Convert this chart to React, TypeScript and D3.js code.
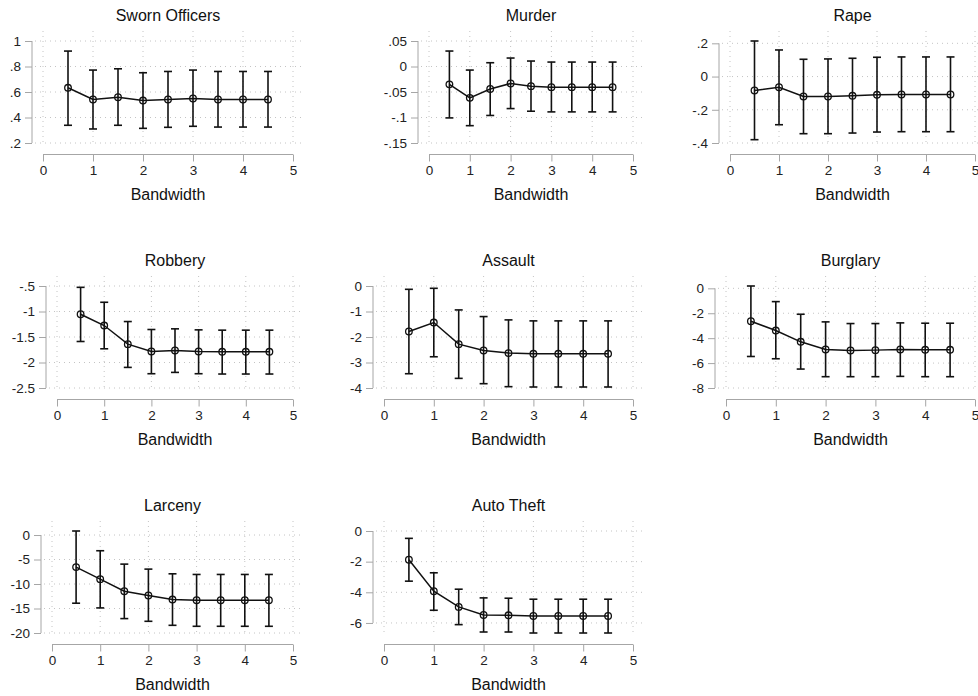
import { useEffect, useRef } from "react";
import * as d3 from "d3";

const bandwidths = [0.5, 1, 1.5, 2, 2.5, 3, 3.5, 4, 4.5];
const xTicks = [0, 1, 2, 3, 4, 5];
const titles = ["Sworn Officers", "Murder", "Rape", "Robbery", "Assault", "Burglary", "Larceny", "Auto Theft"];

const estimates = [
  [0.633, 0.541, 0.559, 0.533, 0.541, 0.549, 0.541, 0.541, 0.541],
  [-0.035, -0.0615, -0.044, -0.0333, -0.0385, -0.0405, -0.0405, -0.0405, -0.0405],
  [-0.084, -0.064, -0.12, -0.12, -0.116, -0.11, -0.108, -0.108, -0.108],
  [-1.054, -1.275, -1.64, -1.783, -1.764, -1.783, -1.79, -1.79, -1.79],
  [-1.785, -1.433, -2.28, -2.528, -2.632, -2.658, -2.658, -2.658, -2.658],
  [-2.64, -3.387, -4.293, -4.907, -4.987, -4.96, -4.907, -4.933, -4.933],
  [-6.55, -9.01, -11.47, -12.35, -13.17, -13.31, -13.31, -13.31, -13.31],
  [-1.877, -3.927, -4.953, -5.477, -5.5, -5.542, -5.542, -5.542, -5.542],
];

const ciLower = [
  [0.339, 0.31, 0.339, 0.315, 0.323, 0.331, 0.325, 0.325, 0.325],
  [-0.1008, -0.116, -0.096, -0.0825, -0.0877, -0.089, -0.089, -0.089, -0.089],
  [-0.38, -0.29, -0.344, -0.344, -0.34, -0.334, -0.332, -0.332, -0.332],
  [-1.588, -1.731, -2.096, -2.22, -2.194, -2.22, -2.226, -2.226, -2.226],
  [-3.44, -2.775, -3.622, -3.831, -3.948, -3.961, -3.961, -3.961, -3.961],
  [-5.47, -5.653, -6.48, -7.093, -7.093, -7.093, -7.067, -7.093, -7.093],
  [-13.92, -14.88, -17.06, -17.61, -18.43, -18.63, -18.63, -18.63, -18.63],
  [-3.273, -5.171, -6.109, -6.59, -6.59, -6.655, -6.655, -6.655, -6.655],
];

const ciUpper = [
  [0.921, 0.772, 0.782, 0.751, 0.761, 0.772, 0.761, 0.761, 0.761],
  [0.0303, -0.007, 0.0074, 0.0166, 0.0107, 0.0087, 0.0087, 0.0087, 0.0087],
  [0.214, 0.16, 0.104, 0.106, 0.11, 0.116, 0.118, 0.118, 0.118],
  [-0.526, -0.819, -1.197, -1.353, -1.34, -1.36, -1.366, -1.366, -1.366],
  [-0.13, -0.09, -0.938, -1.199, -1.329, -1.368, -1.368, -1.368, -1.368],
  [0.187, -1.067, -2.08, -2.693, -2.827, -2.827, -2.773, -2.8, -2.8],
  [0.82, -3.21, -5.94, -6.96, -7.92, -8.05, -8.05, -8.05, -8.05],
  [-0.48, -2.727, -3.797, -4.364, -4.386, -4.45, -4.45, -4.45, -4.45],
];

const yTicks = [
  [0.2, 0.4, 0.6, 0.8, 1],
  [-0.15, -0.1, -0.05, 0, 0.05],
  [-0.4, -0.2, 0, 0.2],
  [-2.5, -2, -1.5, -1, -0.5],
  [-4, -3, -2, -1, 0],
  [-8, -6, -4, -2, 0],
  [-20, -15, -10, -5, 0],
  [-6, -4, -2, 0],
];

const yTickLabels = [
  [".2", ".4", ".6", ".8", "1"],
  ["-.15", "-.1", "-.05", "0", ".05"],
  ["-.4", "-.2", "0", ".2"],
  ["-2.5", "-2", "-1.5", "-1", "-.5"],
  ["-4", "-3", "-2", "-1", "0"],
  ["-8", "-6", "-4", "-2", "0"],
  ["-20", "-15", "-10", "-5", "0"],
  ["-6", "-4", "-2", "0"],
];

// where each panel sits: pixel of x=0, pixel of x=5, row
const panelX0 = [43, 429, 730, 57, 384, 726, 52, 384];
const panelX5 = [293, 633, 975, 293, 633, 975, 293, 633];
const rowTops = [41, 286, 531];
const plotH = 102;

const font = "'Liberation Sans', Arial, Helvetica, sans-serif";
const axisColor = "#a6a6a6";
const gridColor = "#c4c4c4";
const ink = "#111";

const App = () => {
  const ref = useRef<SVGSVGElement>(null);

  useEffect(() => {
    const svg = d3.select(ref.current);
    svg.selectAll("*").remove();

    titles.forEach((title, p) => {
      const top = rowTops[Math.floor(p / 3)];
      const bottom = top + plotH;
      const x0 = panelX0[p];
      const x5 = panelX5[p];
      const ticks = yTicks[p];
      const labels = yTickLabels[p];

      const x = d3.scaleLinear().domain([0, 5]).range([x0, x5]);
      const lo = Math.min(d3.min(ticks)!, d3.min(ciLower[p])!);
      const hi = Math.max(d3.max(ticks)!, d3.max(ciUpper[p])!);
      const y = d3.scaleLinear().domain([lo, hi]).range([bottom, top]);

      const g = svg.append("g");

      // dotted grid
      g.append("g")
        .selectAll("line")
        .data(ticks)
        .enter()
        .append("line")
        .attr("x1", x0 - 8)
        .attr("x2", x5 + 10)
        .attr("y1", d => y(d))
        .attr("y2", d => y(d))
        .attr("stroke", gridColor)
        .attr("stroke-dasharray", "1 4");

      g.append("g")
        .selectAll("line")
        .data(xTicks)
        .enter()
        .append("line")
        .attr("x1", d => x(d))
        .attr("x2", d => x(d))
        .attr("y1", top - 10)
        .attr("y2", bottom + 2)
        .attr("stroke", gridColor)
        .attr("stroke-dasharray", "1 4");

      // y axis
      const axisX = x0 - 11;
      const yAxisG = g
        .append("g")
        .attr("transform", `translate(${axisX},0)`)
        .call(
          d3
            .axisLeft(y)
            .tickValues(ticks)
            .tickFormat((_, i) => labels[i])
            .tickSize(7)
            .tickPadding(4)
        );
      yAxisG.select(".domain").remove();
      yAxisG
        .append("line")
        .attr("y1", y(d3.min(ticks)!))
        .attr("y2", y(d3.max(ticks)!))
        .attr("stroke", axisColor);

      // x axis
      const axisY = bottom + 11.5;
      const xAxisG = g
        .append("g")
        .attr("transform", `translate(0,${axisY})`)
        .call(d3.axisBottom(x).tickValues(xTicks).tickFormat(d3.format("d")).tickSize(7).tickPadding(4));
      xAxisG.select(".domain").remove();
      xAxisG
        .append("line")
        .attr("x1", x(0))
        .attr("x2", x(5))
        .attr("stroke", axisColor);

      [yAxisG, xAxisG].forEach(a => {
        a.attr("font-size", null).attr("font-family", null);
        a.selectAll(".tick line").attr("stroke", axisColor);
        a.selectAll(".tick text")
          .attr("fill", "#222")
          .style("font-size", "13.5px")
          .style("font-family", font);
      });

      // confidence intervals
      const ci = g.append("g").attr("stroke", ink).attr("stroke-width", 1.6);
      bandwidths.forEach((b, i) => {
        const cx = x(b);
        ci.append("line")
          .attr("x1", cx).attr("x2", cx)
          .attr("y1", y(ciLower[p][i])).attr("y2", y(ciUpper[p][i]));
        ci.append("line")
          .attr("x1", cx - 4).attr("x2", cx + 4)
          .attr("y1", y(ciLower[p][i])).attr("y2", y(ciLower[p][i]));
        ci.append("line")
          .attr("x1", cx - 4).attr("x2", cx + 4)
          .attr("y1", y(ciUpper[p][i])).attr("y2", y(ciUpper[p][i]));
      });

      // estimate line and markers
      const line = d3
        .line<number>()
        .x((_, i) => x(bandwidths[i]))
        .y(d => y(d));
      g.append("path")
        .attr("d", line(estimates[p]))
        .attr("fill", "none")
        .attr("stroke", ink)
        .attr("stroke-width", 1.5);

      g.append("g")
        .selectAll("circle")
        .data(estimates[p])
        .enter()
        .append("circle")
        .attr("cx", (_, i) => x(bandwidths[i]))
        .attr("cy", d => y(d))
        .attr("r", 3.3)
        .attr("fill", "none")
        .attr("stroke", ink)
        .attr("stroke-width", 1.3);

      // titles
      g.append("text")
        .attr("x", (x0 + x5) / 2)
        .attr("y", top - 20)
        .attr("text-anchor", "middle")
        .style("font-family", font)
        .style("font-size", "16px")
        .attr("fill", ink)
        .text(title);

      g.append("text")
        .attr("x", (x0 + x5) / 2)
        .attr("y", bottom + 57)
        .attr("text-anchor", "middle")
        .style("font-family", font)
        .style("font-size", "16px")
        .attr("fill", ink)
        .text("Bandwidth");
    });
  }, []);

  return (
    <svg
      ref={ref}
      width={978}
      height={696}
      style={{ position: "absolute", left: 0, top: 0, background: "#fff" }}
    />
  );
};

export default App;
